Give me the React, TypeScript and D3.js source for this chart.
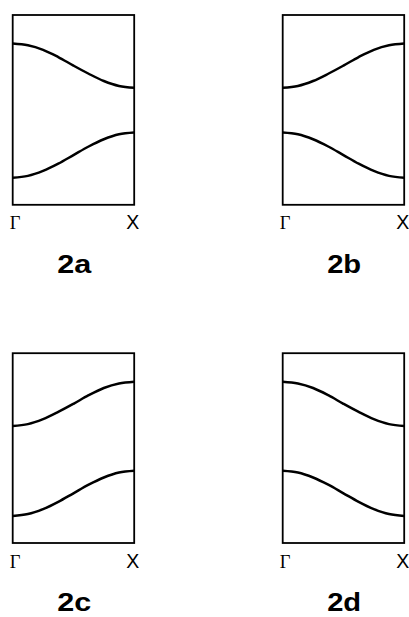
import React from "react";
import * as d3 from "d3";

// Reduced wavevector along Γ → X (0 = Γ, 1 = X)
const kPoints = [0, 0.125, 0.25, 0.375, 0.5, 0.625, 0.75, 0.875, 1];

// Band energies (arbitrary units) sampled at kPoints
const upperFalling = [3.57, 3.53, 3.43, 3.27, 3.08, 2.9, 2.74, 2.63, 2.59];
const upperRising = [2.59, 2.63, 2.74, 2.9, 3.08, 3.27, 3.43, 3.53, 3.57];
const lowerRising = [0.6, 0.64, 0.75, 0.91, 1.1, 1.29, 1.45, 1.56, 1.6];
const lowerFalling = [1.6, 1.56, 1.45, 1.29, 1.1, 0.91, 0.75, 0.64, 0.6];

const panelLabels = ["2a", "2b", "2c", "2d"];
const panelUpper = [upperFalling, upperRising, upperRising, upperFalling];
const panelLower = [lowerRising, lowerFalling, lowerRising, lowerFalling];
const kTickLabels = ["Γ", "X"];

const energyDomain: [number, number] = [0, 4.2];

const colLeft = [12.7, 282.7];
const rowTop = [15, 353.2];
const boxW = 121.5;
const boxH = 189.8;

function Panel({ idx }: { idx: number }) {
  const col = idx % 2;
  const row = Math.floor(idx / 2);
  const left = colLeft[col];
  const top = rowTop[row];
  const x = d3.scaleLinear().domain([0, 1]).range([left, left + boxW]);
  const y = d3.scaleLinear().domain(energyDomain).range([top + boxH, top]);
  const line = d3
    .line<number>()
    .x((_, i) => x(kPoints[i]))
    .y((e) => y(e))
    .curve(d3.curveCatmullRom.alpha(0.5));
  const bands = [panelUpper[idx], panelLower[idx]];
  const bottom = top + boxH;
  return (
    <g>
      <rect
        x={left}
        y={top}
        width={boxW}
        height={boxH}
        fill="none"
        stroke="#000"
        strokeWidth={1.8}
      />
      {bands.map((b, i) => (
        <path key={i} d={line(b) ?? ""} fill="none" stroke="#000" strokeWidth={2.5} />
      ))}
      <text
        x={x(0) + 2.3}
        y={bottom + 24.5}
        textAnchor="middle"
        fontFamily="'Liberation Serif', 'Times New Roman', serif"
        fontSize={18.5}
        fill="#000"
      >
        {kTickLabels[0]}
      </text>
      <text
        x={x(1) - 1.5}
        y={bottom + 24.5}
        textAnchor="middle"
        fontFamily="'Liberation Sans', Arial, sans-serif"
        fontSize={19.5}
        fill="#000"
      >
        {kTickLabels[1]}
      </text>
      <text
        x={(x(0) + x(1)) / 2 + 0.7}
        y={bottom + 68}
        textAnchor="middle"
        fontFamily="'Liberation Sans', Arial, sans-serif"
        fontWeight="bold"
        fontSize={25.5}
        textLength={34}
        lengthAdjust="spacingAndGlyphs"
        fill="#000"
      >
        {panelLabels[idx]}
      </text>
    </g>
  );
}

export default function App() {
  return (
    <svg
      width={409}
      height={617}
      style={{ position: "absolute", left: 0, top: 0, background: "#fff" }}
    >
      <rect width={409} height={617} fill="#fff" />
      {panelLabels.map((_, i) => (
        <Panel key={i} idx={i} />
      ))}
    </svg>
  );
}
